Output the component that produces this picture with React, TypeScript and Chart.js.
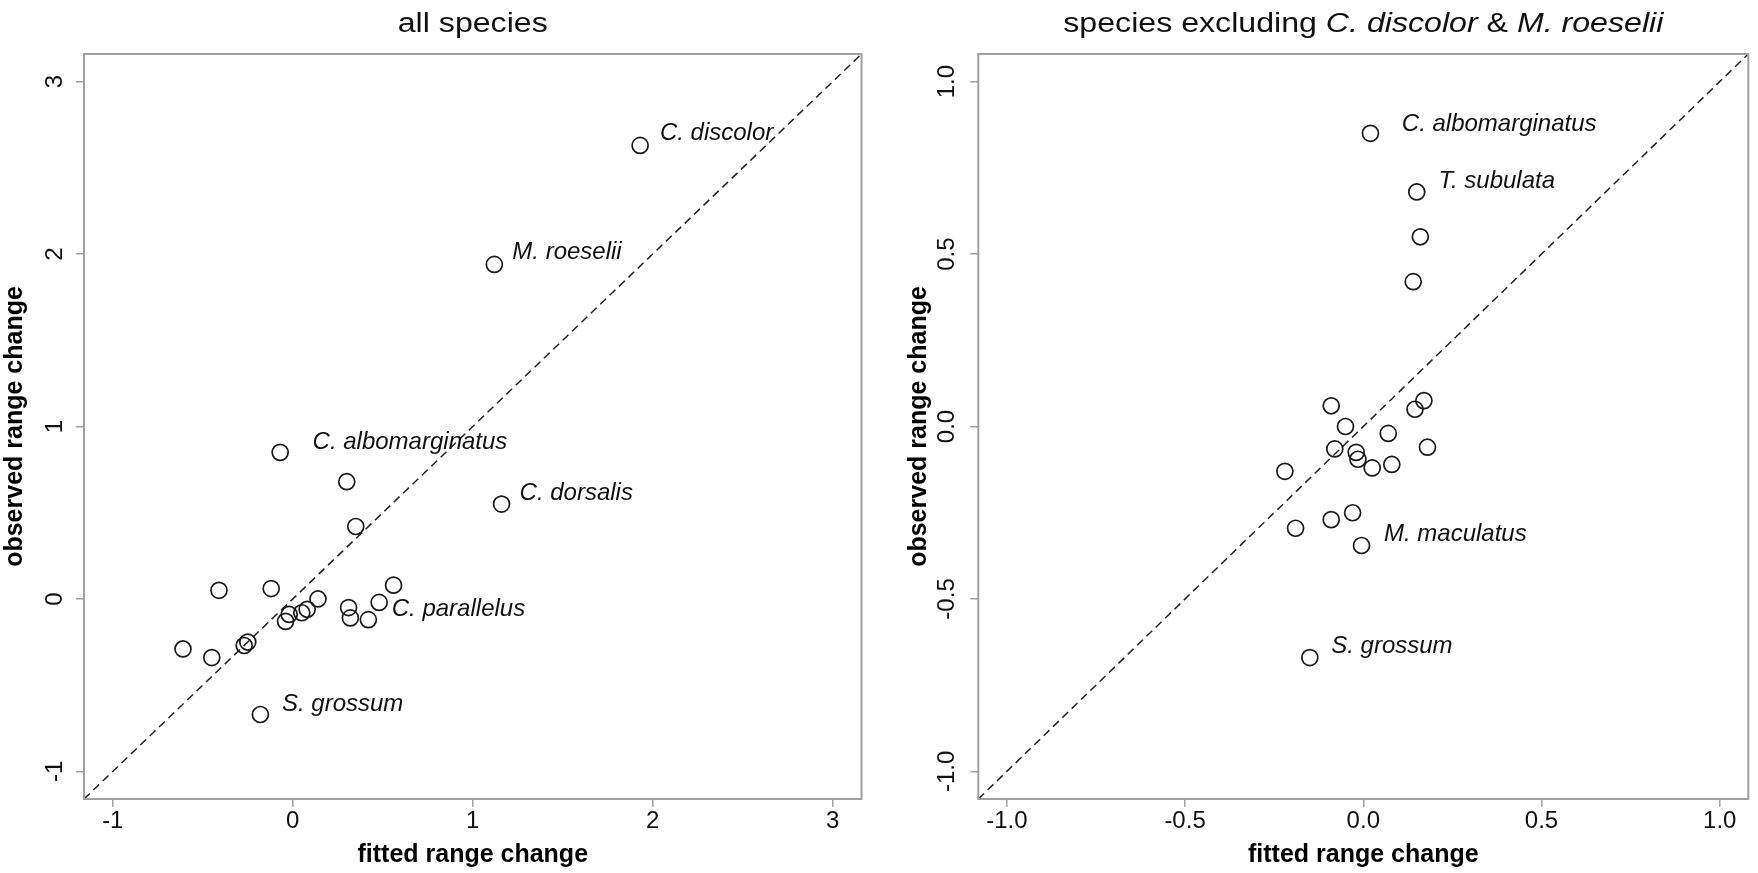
import React, { useEffect, useRef } from "react";
import { Chart, registerables } from "chart.js";

Chart.register(...registerables);

const FONT = "'Liberation Sans', Arial, Helvetica, sans-serif";

// ---------- Panel 1: all species ----------
const allFitted = [1.93, 1.12, -0.07, 1.16, 0.30, 0.35, -0.41, -0.12, 0.14, 0.56, 0.48, 0.31, 0.32, 0.42, -0.04, -0.02, 0.05, 0.08, -0.27, -0.25, -0.61, -0.45, -0.18];
const allObserved = [2.63, 1.94, 0.85, 0.55, 0.68, 0.42, 0.05, 0.06, 0.00, 0.08, -0.02, -0.05, -0.11, -0.12, -0.13, -0.09, -0.08, -0.06, -0.27, -0.25, -0.29, -0.34, -0.67];
const allLabels = ["C. discolor", "M. roeselii", "C. albomarginatus", "C. dorsalis", "C. parallelus", "S. grossum"];
const allLabelX = [2.04, 1.22, 0.11, 1.26, 0.55, -0.06];
const allLabelY = [2.70, 2.01, 0.91, 0.61, -0.06, -0.61];
const allLimits = [-1.16, 3.16];
const allStep = 1;

// ---------- Panel 2: species excluding C. discolor & M. roeselii ----------
const exFitted = [0.02, 0.15, 0.16, 0.14, -0.09, 0.17, 0.145, -0.05, 0.07, -0.08, -0.02, -0.015, 0.18, 0.025, 0.08, -0.22, -0.03, -0.09, -0.19, -0.005, -0.15];
const exObserved = [0.85, 0.68, 0.55, 0.42, 0.06, 0.075, 0.05, 0.0, -0.02, -0.065, -0.075, -0.095, -0.06, -0.12, -0.11, -0.13, -0.25, -0.27, -0.295, -0.345, -0.67];
const exLabels = ["C. albomarginatus", "T. subulata", "M. maculatus", "S. grossum"];
const exLabelX = [0.108, 0.211, 0.058, -0.09];
const exLabelY = [0.877, 0.71, -0.314, -0.638];
const exLimits = [-1.08, 1.08];
const exStep = 0.5;

type Seg = { text: string; italic: boolean };
const allTitle: Seg[] = [{ text: "all species", italic: false }];
const exTitle: Seg[] = [
  { text: "species excluding ", italic: false },
  { text: "C. discolor", italic: true },
  { text: " & ", italic: false },
  { text: "M. roeselii", italic: true },
];

const xTitle = "fitted range change";
const yTitle = "observed range change";

const annotatePlugin = {
  id: "annotate",
  afterDraw(chart: any, _args: any, o: any) {
    const { ctx, chartArea, scales } = chart;
    ctx.save();
    // frame
    ctx.strokeStyle = "#a0a0a0";
    ctx.lineWidth = 2;
    ctx.strokeRect(chartArea.left, chartArea.top, chartArea.right - chartArea.left, chartArea.bottom - chartArea.top);
    // point labels
    ctx.fillStyle = "#111";
    ctx.font = `italic 24px ${FONT}`;
    ctx.textAlign = "left";
    ctx.textBaseline = "middle";
    o.labels.forEach((t: string, i: number) => {
      ctx.fillText(t, scales.x.getPixelForValue(o.lx[i]), scales.y.getPixelForValue(o.ly[i]));
    });
    // title (wide-set face: horizontally stretched)
    ctx.textBaseline = "alphabetic";
    const segs: Seg[] = o.title;
    const fontOf = (s: Seg) => `${s.italic ? "italic " : ""}27px ${FONT}`;
    let total = 0;
    const widths = segs.map((s) => {
      ctx.font = fontOf(s);
      const w = ctx.measureText(s.text).width;
      total += w;
      return w;
    });
    ctx.translate((chartArea.left + chartArea.right) / 2, 32);
    ctx.scale(1.19, 1);
    let x = -total / 2;
    segs.forEach((s, i) => {
      ctx.font = fontOf(s);
      ctx.fillStyle = "#111";
      ctx.fillText(s.text, x, 0);
      x += widths[i];
    });
    ctx.restore();
  },
};

type PanelProps = {
  fitted: number[];
  observed: number[];
  labels: string[];
  lx: number[];
  ly: number[];
  limits: number[];
  step: number;
  digits: number;
  title: Seg[];
  padRight: number;
  yAxisWidth: number;
  yTickPad: number;
  yTitlePad: number;
};

function Panel(p: PanelProps) {
  const ref = useRef<HTMLCanvasElement>(null);
  useEffect(() => {
    if (!ref.current) return;
    const pts = p.fitted.map((v, i) => ({ x: v, y: p.observed[i] }));
    const diag = [
      { x: p.limits[0], y: p.limits[0] },
      { x: p.limits[1], y: p.limits[1] },
    ];
    const tickFont = { family: FONT, size: 24 };
    const fmt = (v: any) => Number(v).toFixed(p.digits);
    const chart = new Chart(ref.current, {
      type: "scatter",
      data: {
        datasets: [
          {
            data: pts,
            pointStyle: "circle",
            pointRadius: 8,
            pointHoverRadius: 8,
            borderColor: "#1a1a1a",
            backgroundColor: "rgba(0,0,0,0)",
            pointBorderWidth: 1.7,
            borderWidth: 1.7,
          },
          {
            data: diag,
            showLine: true,
            pointRadius: 0,
            borderColor: "#222",
            borderWidth: 1.5,
            borderDash: [8, 5],
            fill: false,
          } as any,
        ],
      },
      options: {
        animation: false,
        responsive: false,
        events: [],
        layout: { padding: { left: 0, top: 54, right: p.padRight, bottom: 0 } },
        plugins: {
          legend: { display: false },
          tooltip: { enabled: false },
          title: { display: false },
          annotate: { labels: p.labels, lx: p.lx, ly: p.ly, title: p.title },
        } as any,
        scales: {
          x: {
            type: "linear",
            min: p.limits[0],
            max: p.limits[1],
            afterFit: (s: any) => {
              s.height = 74;
            },
            border: { display: false },
            grid: { display: true, drawOnChartArea: false, drawTicks: true, tickLength: 8, color: "#a0a0a0", lineWidth: 1.5 },
            ticks: {
              stepSize: p.step,
              includeBounds: false,
              autoSkip: false,
              maxRotation: 0,
              minRotation: 0,
              padding: 0,
              color: "#111",
              font: tickFont,
              callback: fmt,
            },
            title: {
              display: true,
              text: xTitle,
              color: "#000",
              font: { family: FONT, size: 25, weight: "bold" },
              padding: { top: 0, bottom: 3 },
            },
          },
          y: {
            type: "linear",
            min: p.limits[0],
            max: p.limits[1],
            afterFit: (s: any) => {
              s.width = p.yAxisWidth;
            },
            border: { display: false },
            grid: { display: true, drawOnChartArea: false, drawTicks: true, tickLength: 8, color: "#a0a0a0", lineWidth: 1.5 },
            ticks: {
              stepSize: p.step,
              includeBounds: false,
              autoSkip: false,
              minRotation: 90,
              maxRotation: 90,
              crossAlign: "center",
              padding: p.yTickPad,
              color: "#111",
              font: tickFont,
              callback: fmt,
            },
            title: {
              display: true,
              text: yTitle,
              color: "#000",
              font: { family: FONT, size: 25, weight: "bold" },
              padding: { top: p.yTitlePad, bottom: 0 },
            },
          },
        },
      },
      plugins: [annotatePlugin as any],
    });
    return () => chart.destroy();
  }, []);
  return <canvas ref={ref} width={879} height={873} style={{ display: "block", width: 879, height: 873 }} />;
}

export default function App() {
  return (
    <div style={{ position: "fixed", left: 0, top: 0, width: 1758, height: 873, display: "flex", background: "#fff" }}>
      <Panel
        fitted={allFitted}
        observed={allObserved}
        labels={allLabels}
        lx={allLabelX}
        ly={allLabelY}
        limits={allLimits}
        step={allStep}
        digits={0}
        title={allTitle}
        padRight={17.5}
        yAxisWidth={84}
        yTickPad={10}
        yTitlePad={0}
      />
      <Panel
        fitted={exFitted}
        observed={exObserved}
        labels={exLabels}
        lx={exLabelX}
        ly={exLabelY}
        limits={exLimits}
        step={exStep}
        digits={1}
        title={exTitle}
        padRight={2}
        yAxisWidth={99.3}
        yTickPad={2}
        yTitlePad={25}
      />
    </div>
  );
}
